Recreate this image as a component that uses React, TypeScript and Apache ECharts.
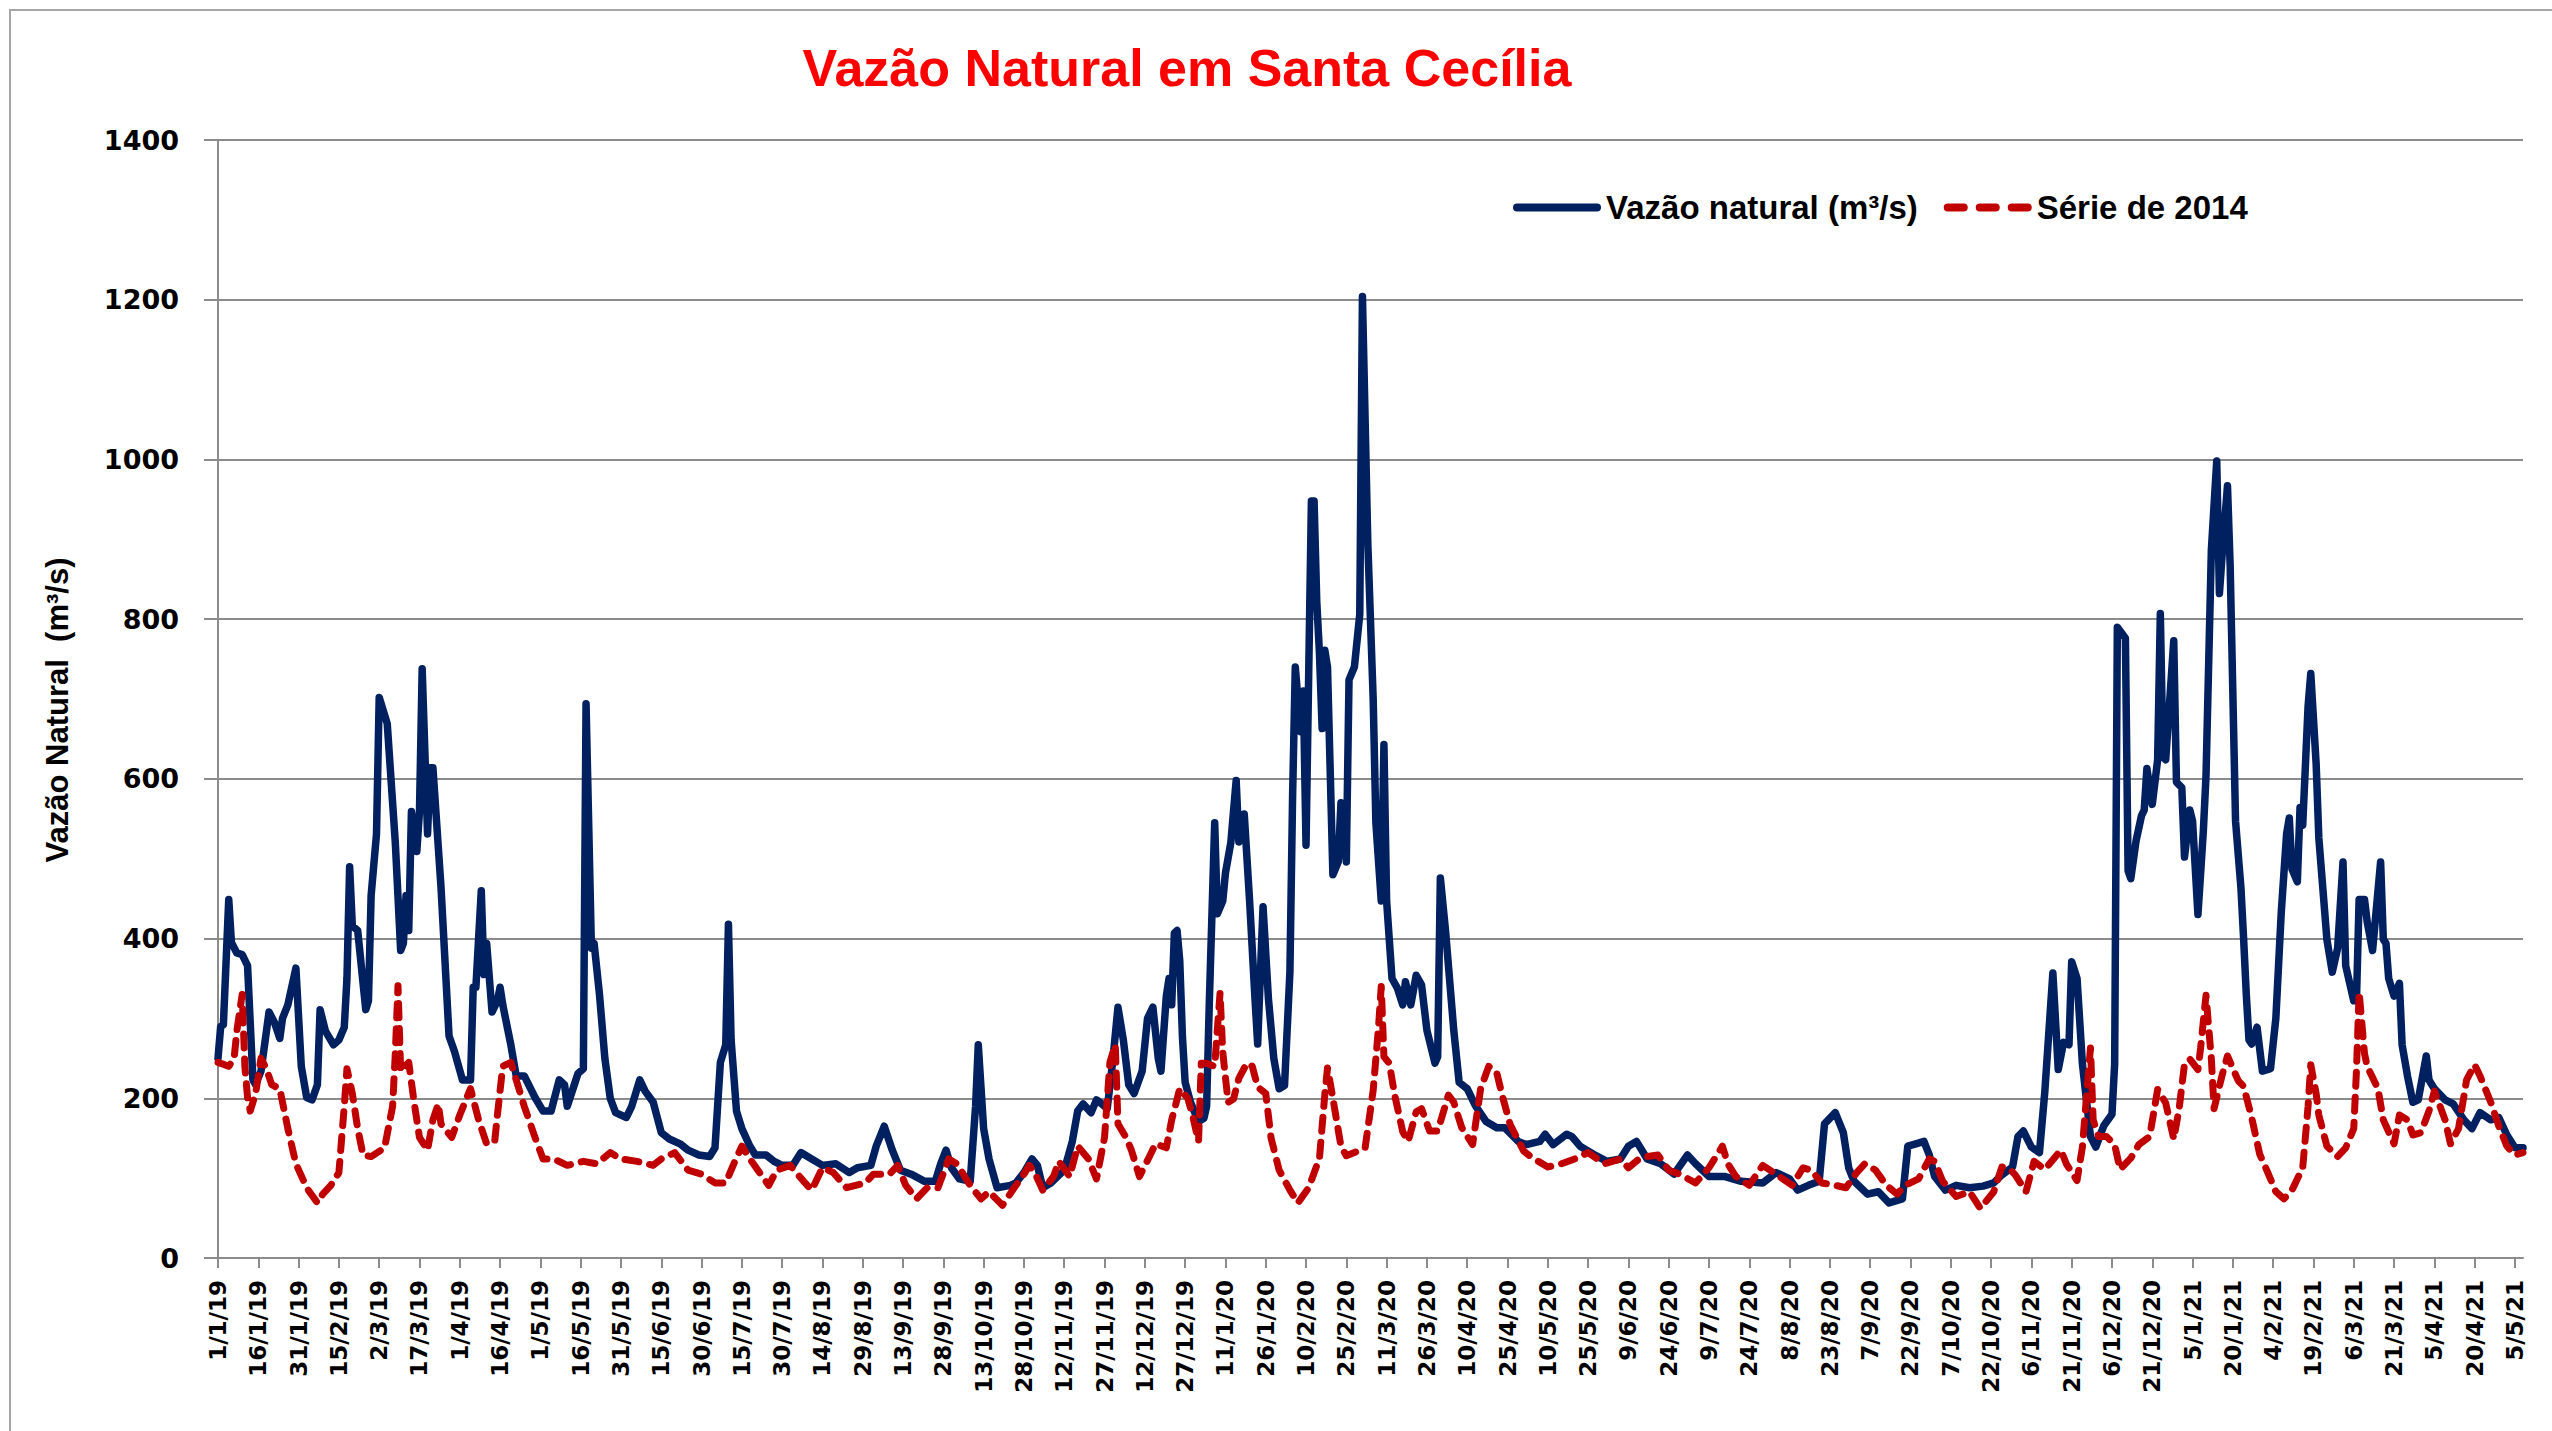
import React, { useEffect, useRef } from "react";
import * as echarts from "echarts";

// ---- data (day index from 1/1/2019, value m³/s) ----
const blueDays = [0,1,2,4,5,7,9,11,13,14,16,19,21,23,24,26,29,31,33,35,37,38,40,43,45,47,48,49,50,52,55,56,57,59,60,62,63,66,68,69,70,71,72,74,75,76,78,79,80,83,86,88,91,94,95,96,98,99,100,102,104,105,106,109,111,114,118,121,124,127,129,130,134,136,137,139,140,142,144,146,148,152,154,157,159,162,165,168,172,175,179,183,185,187,189,190,191,193,195,198,200,204,207,210,214,217,221,225,230,235,238,243,245,248,251,254,258,263,267,269,271,273,276,280,282,283,285,287,290,295,297,300,303,305,307,310,315,318,320,322,325,327,329,331,333,335,337,339,341,344,346,348,350,351,353,354,355,356,357,358,359,360,362,365,367,368,369,371,372,374,375,377,379,380,382,384,386,387,389,391,393,395,397,399,400,401,403,404,405,407,408,409,410,411,412,413,415,417,418,420,421,423,425,426,428,430,431,433,434,435,437,439,441,442,444,446,448,450,453,454,455,457,460,462,465,468,472,476,479,484,487,492,494,497,502,504,507,512,517,522,525,528,532,537,542,547,550,555,561,567,575,580,585,588,592,596,598,602,605,607,609,614,618,622,627,629,632,635,637,639,643,647,652,657,661,664,668,670,672,675,678,680,683,685,687,689,690,692,694,697,699,702,705,706,707,710,711,712,714,716,717,718,720,722,723,724,725,728,729,731,732,734,735,737,739,740,742,744,745,746,748,749,751,753,754,755,756,757,759,761,764,766,768,770,771,772,774,775,776,778,779,781,782,785,787,789,791,792,795,796,797,799,800,802,805,806,807,808,810,812,813,815,817,819,822,823,825,829,832,836,839,842,846,849,852,855,858];
const blueValues = [250,290,292,449,395,382,380,366,223,217,234,308,295,275,300,317,363,240,201,198,217,311,284,267,273,289,350,490,416,410,311,322,454,531,702,680,669,520,385,394,454,410,559,509,559,738,531,614,614,465,278,259,223,223,339,339,460,355,394,308,322,339,317,267,228,228,201,184,184,223,217,190,231,237,694,388,394,330,250,200,182,176,190,223,209,195,157,149,143,135,129,127,138,245,267,418,273,184,162,140,129,129,121,116,116,132,124,116,118,107,113,116,140,165,135,110,105,96,96,118,135,113,99,96,190,267,162,124,88,91,94,107,124,116,88,94,110,146,184,193,182,198,193,187,245,314,273,217,206,234,300,314,250,234,328,350,317,407,410,372,277,220,195,171,175,190,320,545,431,447,482,520,598,521,556,447,325,268,440,325,250,212,216,358,578,740,659,710,517,948,948,822,757,663,761,740,480,496,570,496,724,740,806,1204,895,700,545,447,643,447,350,338,317,346,317,354,342,285,244,252,476,407,285,220,212,191,171,163,163,146,142,146,155,142,155,152,140,130,121,124,140,146,124,118,105,129,118,102,102,96,94,107,99,85,91,96,168,182,157,113,96,80,83,69,74,140,143,146,129,102,85,91,88,90,94,104,114,152,159,139,132,208,357,236,270,267,371,350,243,152,139,166,180,243,790,776,485,475,523,554,561,613,568,624,807,627,624,773,596,589,502,561,547,430,534,603,887,998,832,880,967,866,547,464,400,330,273,268,289,234,237,300,432,531,551,487,471,564,542,691,732,619,526,399,358,388,496,366,322,322,449,449,421,385,496,399,394,350,328,344,267,228,195,198,253,223,212,198,193,173,162,182,173,176,154,138,138];

const redDays = [0,4,6,7,9,10,11,12,14,16,18,20,23,26,29,33,37,39,42,45,47,48,50,52,54,57,62,65,66,67,68,71,73,75,78,80,82,83,87,90,93,94,97,100,103,104,106,109,111,114,118,121,125,130,136,141,146,150,156,162,165,170,175,180,185,189,192,195,198,202,205,208,213,218,221,225,229,234,241,244,250,253,256,260,264,268,272,275,280,284,287,292,296,300,302,304,307,311,313,317,320,324,327,330,332,334,335,338,340,343,347,349,353,355,358,361,363,365,366,368,371,373,374,376,378,380,383,385,387,390,392,395,399,402,406,410,412,413,415,418,420,423,427,430,432,433,434,436,438,441,443,446,448,451,454,458,460,463,467,470,473,476,478,481,486,489,495,500,505,510,516,522,525,529,532,536,540,544,550,555,560,562,565,570,575,580,586,590,593,597,602,606,610,613,617,621,625,628,633,637,639,642,647,652,656,661,664,667,669,673,676,680,686,688,692,694,696,697,698,700,703,706,708,712,715,719,722,725,728,730,732,734,737,738,740,742,743,746,748,752,754,757,760,763,766,769,772,776,778,779,781,782,785,789,792,795,796,797,799,800,804,806,810,812,815,817,820,823,825,829,831,834,837,840,842,846,849,852,855,858];
const redValues = [245,240,250,284,330,240,201,184,206,250,237,217,212,162,118,88,69,80,91,107,190,237,206,162,129,127,138,190,256,341,234,245,195,151,135,173,193,168,151,179,204,212,173,143,146,179,240,245,223,190,151,124,124,116,121,118,132,124,121,116,124,132,110,105,94,94,118,140,124,105,91,110,116,96,85,113,107,88,94,105,105,116,91,74,88,88,124,118,91,74,83,66,86,105,116,107,85,102,121,102,140,124,99,151,245,267,168,151,135,102,129,143,138,173,212,200,175,146,244,244,240,332,258,195,199,225,244,240,214,206,150,110,85,69,88,125,205,238,200,140,128,132,138,210,290,340,252,244,204,158,146,183,187,159,159,204,195,163,142,212,240,232,204,167,134,126,114,118,124,132,118,124,113,124,127,129,110,105,94,113,140,118,102,91,116,105,91,113,110,94,91,88,107,118,110,91,80,91,99,124,121,96,77,83,62,83,114,111,104,83,121,111,135,118,97,139,222,263,173,152,152,142,111,125,142,152,211,194,149,187,243,249,236,263,329,249,187,229,253,222,215,176,130,107,83,74,85,113,190,242,206,179,140,127,138,162,234,333,256,240,212,173,143,179,173,154,157,184,209,173,143,162,223,242,228,195,165,140,129,132];

const yTicks = [0, 200, 400, 600, 800, 1000, 1200, 1400];
const DAY_COUNT = 859;
const START = Date.UTC(2019, 0, 1);
const categories: string[] = Array.from({ length: DAY_COUNT }, (_, i) => {
  const d = new Date(START + i * 86400000);
  return `${d.getUTCDate()}/${d.getUTCMonth() + 1}/${String(d.getUTCFullYear()).slice(2)}`;
});

const BLUE = "#002060";
const RED = "#C00000";
const GRID = "#8c8c8c";
const NAME_BLUE = "Vazão natural (m³/s)";
const NAME_RED = "Série de 2014";

export default function App() {
  const ref = useRef<HTMLDivElement>(null);
  useEffect(() => {
    if (!ref.current) return;
    const chart = echarts.init(ref.current, undefined, { renderer: "svg" });
    const blueData = blueDays.map((d, i) => [d, blueValues[i]]);
    const redData = redDays.map((d, i) => [d, redValues[i]]);
    chart.setOption({
      animation: false,
      backgroundColor: "#ffffff",
      grid: { left: 218, right: 29, top: 140, bottom: 173, containLabel: false },
      legend: {
        left: 1508,
        top: 186,
        itemWidth: 88,
        itemHeight: 8,
        itemGap: 26,
        textStyle: { fontFamily: "Liberation Sans", fontWeight: "bold", fontSize: 33, color: "#000" },
        data: [
          { name: NAME_BLUE, icon: "path://M4,0H84A4,4 0 0 1 84,8H4A4,4 0 0 1 4,0Z" },
          {
            name: NAME_RED,
            icon: "path://M4,0H20A4,4 0 0 1 20,8H4A4,4 0 0 1 4,0Z M36,0H52A4,4 0 0 1 52,8H36A4,4 0 0 1 36,0Z M68,0H84A4,4 0 0 1 84,8H68A4,4 0 0 1 68,0Z",
          },
        ],
      },
      graphic: [
        {
          type: "rect",
          shape: { x: 10, y: 10, width: 2600, height: 1500 },
          style: { fill: "none", stroke: "#a6a6a6", lineWidth: 2 },
          silent: true,
        },
        {
          type: "text",
          x: 1187,
          y: 68,
          style: {
            text: "Vazão Natural em Santa Cecília",
            fill: "#FF0000",
            font: "bold 52px 'Liberation Sans', Arial, sans-serif",
            align: "center",
            verticalAlign: "middle",
          },
        },
        {
          type: "text",
          x: 57,
          y: 710,
          rotation: Math.PI / 2,
          style: {
            text: "Vazão Natural  (m³/s)",
            fill: "#000",
            font: "bold 31px 'Liberation Sans', Arial, sans-serif",
            align: "center",
            verticalAlign: "middle",
          },
        },
      ],
      xAxis: {
        type: "category",
        data: categories,
        boundaryGap: false,
        axisLine: { lineStyle: { color: GRID, width: 2 } },
        axisTick: { interval: 14, length: 10, lineStyle: { color: GRID, width: 2 } },
        axisLabel: {
          interval: 14,
          rotate: 90,
          margin: 22,
          fontFamily: "DejaVu Sans",
          fontWeight: "bold",
          fontSize: 23,
          color: "#000",
        },
        splitLine: { show: false },
      },
      yAxis: {
        type: "value",
        min: yTicks[0],
        max: yTicks[yTicks.length - 1],
        interval: 200,
        axisLine: { show: true, lineStyle: { color: GRID, width: 2 } },
        axisTick: { show: true, length: 14, lineStyle: { color: GRID, width: 2 } },
        axisLabel: {
          margin: 39,
          fontFamily: "DejaVu Sans",
          fontWeight: "bold",
          fontSize: 27,
          color: "#000",
          formatter: (v: number) => String(v),
        },
        splitLine: { lineStyle: { color: GRID, width: 2 } },
      },
      series: [
        {
          name: NAME_BLUE,
          type: "line",
          data: blueData,
          showSymbol: false,
          symbol: "none",
          color: BLUE,
          lineStyle: { color: BLUE, width: 7.5, cap: "round", join: "round" },
          z: 2,
        },
        {
          name: NAME_RED,
          type: "line",
          data: redData,
          showSymbol: false,
          symbol: "none",
          color: RED,
          lineStyle: { color: RED, width: 7, type: [14, 11], cap: "round", join: "round" },
          z: 3,
        },
      ],
    });
    return () => chart.dispose();
  }, []);
  return (
    <div
      ref={ref}
      style={{ position: "absolute", left: 0, top: 0, width: 2552, height: 1431 }}
    />
  );
}
